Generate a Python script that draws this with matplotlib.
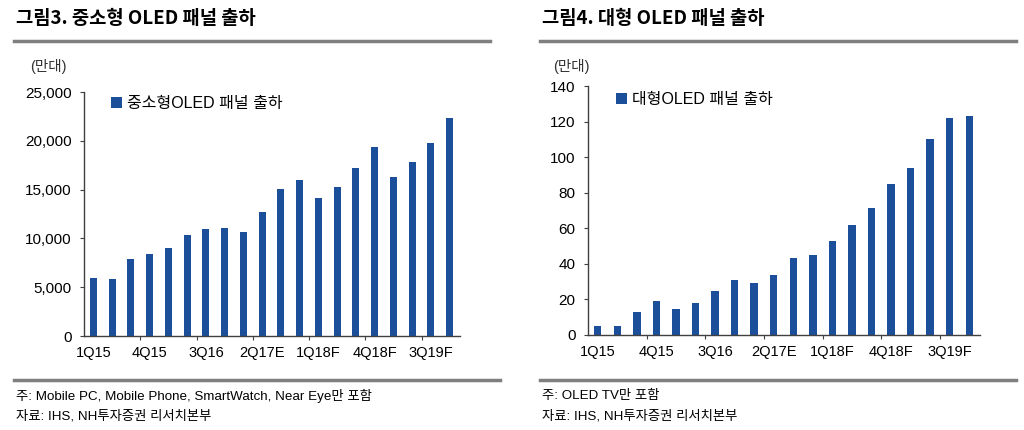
import numpy as np
import matplotlib
matplotlib.use("Agg")
import matplotlib.pyplot as plt
from matplotlib.ticker import FuncFormatter, FixedLocator

plt.rcParams['font.family'] = ['Liberation Sans', 'Noto Sans CJK KR', 'DejaVu Sans']

quarters = ['1Q15', '2Q15', '3Q15', '4Q15', '1Q16', '2Q16', '3Q16', '4Q16',
            '1Q17E', '2Q17E', '3Q17E', '4Q17E', '1Q18F', '2Q18F', '3Q18F', '4Q18F',
            '1Q19F', '2Q19F', '3Q19F', '4Q19F']
small_oled = [5900, 5850, 7900, 8400, 9000, 10300, 11000, 11100, 10700, 12700,
              15100, 16000, 14100, 15300, 17200, 19400, 16300, 17800, 19800, 22300]
large_oled = [5, 5, 13, 19, 14.5, 18, 25, 31, 29, 34,
              43.5, 45, 53, 62, 71.5, 85, 94, 110, 122, 123]

titles = ['그림3. 중소형 OLED 패널 출하', '그림4. 대형 OLED 패널 출하']
legend_labels = ['중소형OLED 패널 출하', '대형OLED 패널 출하']
notes = ['주: Mobile PC, Mobile Phone, SmartWatch, Near Eye만 포함', '주: OLED TV만 포함']
source = '자료: IHS, NH투자증권 리서치본부'

bar_color = '#1B4F9A'
rule_color = '#7F7F7F'
W, H = 1024, 430

fig = plt.figure(figsize=(W / 100, H / 100), dpi=100)


def fx(px):
    return px / W


def fy(py):
    return 1 - py / H


def panel(rect, values, ymax, ystep, fmt, legend_label, leg_anchor):
    ax = fig.add_axes(rect)
    x = np.arange(len(quarters))
    ax.bar(x, values, width=0.38, color=bar_color, label=legend_label, zorder=2)
    ax.set_xlim(-0.5, len(quarters) - 0.45)
    ax.set_ylim(0, ymax)
    ax.set_yticks(np.arange(0, ymax + 1, ystep))
    ax.yaxis.set_major_formatter(FuncFormatter(fmt))
    ax.set_xticks(x[::3])
    ax.set_xticklabels(quarters[::3])
    ax.xaxis.set_minor_locator(FixedLocator(np.arange(2.5, len(quarters), 3)))
    for s in ['top', 'right']:
        ax.spines[s].set_visible(False)
    for s in ['left', 'bottom']:
        ax.spines[s].set_color('#404040')
        ax.spines[s].set_linewidth(1.0)
    ax.tick_params(axis='y', length=3, width=0.8, color='#404040', labelsize=11, pad=6)
    ax.tick_params(axis='x', which='major', length=0, labelsize=10.5, pad=7)
    ax.tick_params(axis='x', which='minor', length=3, width=0.8, color='#404040')
    ax.legend(loc='upper left', bbox_to_anchor=leg_anchor, frameon=False,
              handlelength=0.7, handleheight=0.7, handletextpad=0.3,
              prop={'size': 11.5}, borderaxespad=0)
    return ax


ax1 = panel([fx(84), fy(336), fx(460 - 84), (336 - 92) / H], small_oled, 25000, 5000,
            lambda v, p: f'{int(v):,}', legend_labels[0], (0.055, 1.01))
ax2 = panel([fx(588), fy(335), fx(980 - 588), (335 - 86) / H], large_oled, 140, 20,
            lambda v, p: f'{int(v)}', legend_labels[1], (0.055, 1.0))

# titles, rules and footnotes
for x0, x1, title, note in [(14, 500, titles[0], notes[0]), (540, 1016, titles[1], notes[1])]:
    fig.text(fx(x0 + 2), fy(19), title, fontsize=13.5, fontweight='bold',
             family=['Noto Sans CJK KR'], va='center', ha='left')
    fig.add_artist(plt.Line2D([fx(x0), fx(x1 - 10 if x0 == 14 else x1)], [fy(41), fy(41)],
                              color=rule_color, linewidth=2.5))
    fig.add_artist(plt.Line2D([fx(x0), fx(x1)], [fy(380), fy(380)],
                              color=rule_color, linewidth=2.5))
    fig.text(fx(x0 + 2), fy(396), note, fontsize=9.6, va='center', ha='left')
    fig.text(fx(x0 + 2), fy(416), source, fontsize=9.6, va='center', ha='left')

fig.text(fx(30), fy(66), '(만대)', fontsize=10.5, va='center', ha='left', color='#333333')
fig.text(fx(553), fy(66), '(만대)', fontsize=10.5, va='center', ha='left', color='#333333')

fig.savefig('out.png', dpi=100)
